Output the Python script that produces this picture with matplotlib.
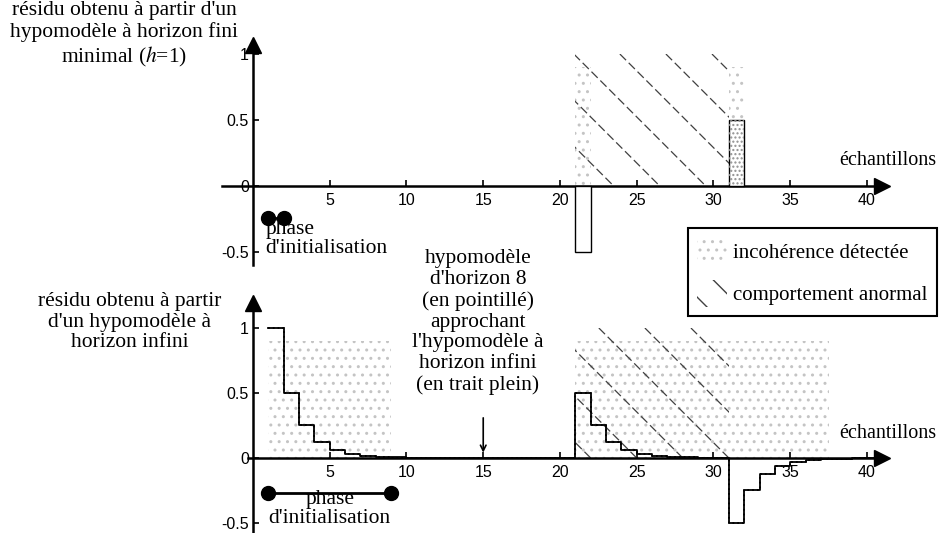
import matplotlib.pyplot as plt
import numpy as np
from matplotlib.patches import Patch

plt.rcParams['font.family'] = ['Liberation Serif', 'DejaVu Serif']
plt.rcParams['mathtext.fontset'] = 'stix'
plt.rcParams['axes.unicode_minus'] = False
plt.rcParams['hatch.linewidth'] = 1.0

# ---- donnees ----
# hypomodele a horizon fini minimal (h=1) : residu non nul en 21 et 31
ech_h1 = [21, 31]
residu_h1 = [-0.5, 0.5]

# hypomodele a horizon infini (trait plein) et d'horizon 8 (pointille)
ech = list(range(1, 42))
residu_inf = [1, 0.5, 0.25, 0.125, 0.0625, 0.03, 0.015, 0.008, 0.004, 0.002,
              0, 0, 0, 0, 0, 0, 0, 0, 0, 0,
              0.5, 0.25, 0.125, 0.0625, 0.03, 0.015, 0.008, 0.004, 0.002, 0,
              -0.5, -0.25, -0.125, -0.0625, -0.03, -0.015, -0.008, -0.004, -0.002, 0,
              0]
residu_h8 = [1, 0.5, 0.25, 0.125, 0.0625, 0.03, 0.015, 0.008, 0, 0,
             0, 0, 0, 0, 0, 0, 0, 0, 0, 0,
             0.5, 0.25, 0.125, 0.0625, 0.03, 0.015, 0.008, 0.004, 0, 0,
             -0.5, -0.25, -0.125, -0.0625, -0.03, -0.015, -0.008, -0.004, 0, 0,
             0]

# zones "incoherence detectee" (intervalles d'echantillons) et "comportement anormal"
incoherence_haut = [(21, 22), (31, 32)]
incoherence_bas = [(1, 9), (21, 37.5)]
anormal = (21, 31)
haut_incoherence = 0.9
haut_anormal = 1.0

phase_init_haut = [1, 2]
phase_init_bas = [1, 9]

ticks_x = [5, 10, 15, 20, 25, 30, 35, 40]
ticks_y = [-0.5, 0, 0.5, 1]
labels_y = ['-0.5', '0', '0.5', '1']

STIPPLE = '#c4c4c4'
HATCH = '#404040'
FS = 15.5
LS = 1.13


def habiller(ax, ylim, xbornes, ybornes):
    ax.set_xlim(-2, 43)
    ax.set_ylim(*ylim)
    ax.patch.set_visible(False)
    ax.spines['top'].set_visible(False)
    ax.spines['right'].set_visible(False)
    ax.spines['left'].set_position(('data', 0))
    ax.spines['bottom'].set_position(('data', 0))
    ax.spines['left'].set_bounds(*ybornes)
    ax.spines['bottom'].set_bounds(*xbornes)
    ax.spines['left'].set_linewidth(1.8)
    ax.spines['bottom'].set_linewidth(1.8)
    ax.set_xticks(ticks_x)
    ax.set_xticklabels([str(t) for t in ticks_x])
    ax.set_yticks(ticks_y)
    ax.set_yticklabels(labels_y)
    ax.tick_params(direction='in', length=4, width=1.2, labelsize=11.5)
    ax.tick_params(axis='x', pad=5)
    ax.tick_params(axis='y', pad=3)
    for lab in ax.get_xticklabels() + ax.get_yticklabels():
        lab.set_family('Liberation Sans')
    ax.plot(xbornes[1], 0, marker='>', ms=11, color='k', clip_on=False)
    ax.plot(0, ybornes[1], marker='^', ms=11, color='k', clip_on=False)


def hachures(ax, x0, x1, hauteur, pente, pas, origine):
    rect = plt.Rectangle((x0, 0), x1 - x0, hauteur, fill=False, lw=0)
    ax.add_patch(rect)
    for c in np.arange(origine - 6 * pas, origine + 6 * pas, pas):
        xs = np.array([c - hauteur / pente, c])
        ln, = ax.plot(xs, pente * (c - xs), color=HATCH, lw=0.9,
                      dashes=(7, 3))
        ln.set_clip_path(rect)


def stipple(ax, x0, x1, hauteur):
    ax.fill_between([x0, x1], 0, hauteur, facecolor='none',
                    edgecolor=STIPPLE, hatch='..', lw=0)


fig = plt.figure(figsize=(9.41, 5.33), dpi=100)
ax1 = fig.add_axes([0.2362, 0.5024, 0.7341, 0.4458])
ax2 = fig.add_axes([0.2362, 0.0017, 0.7341, 0.4561])

# ---- panneau du haut ----
habiller(ax1, (-0.6, 1.2), (-2.0, 41.0), (-0.6, 1.07))
for a, b in incoherence_haut:
    stipple(ax1, a, b, haut_incoherence)
hachures(ax1, anormal[0], anormal[1], haut_anormal, 15.35 / 132, 3.0, 23.5)
ax1.bar(ech_h1, residu_h1, width=1, align='edge', facecolor='white',
        edgecolor='k', lw=1.0, zorder=3)
ax1.bar(ech_h1[1:], residu_h1[1:], width=1, align='edge', facecolor='none',
        edgecolor='#909090', hatch='....', lw=0, zorder=3)
ax1.plot(phase_init_haut, [-0.24, -0.24], color='k', lw=2, marker='o', ms=10)
ax1.text(0.8, -0.26, "phase\nd'initialisation", ha='left', va='top',
         fontsize=FS, linespacing=1.0)
ax1.text(41.35, 0.19, 'échantillons', ha='center', va='center', fontsize=14.5)

# ---- panneau du bas ----
habiller(ax2, (-0.57, 1.3), (-0.3, 41.0), (-0.57, 1.19))
for a, b in incoherence_bas:
    stipple(ax2, a, b, haut_incoherence)
hachures(ax2, anormal[0], anormal[1], haut_anormal, 15.35 / 130, 3.0, 31.0)
ax2.step(ech, residu_h8, where='post', color='k', lw=1.3, ls=':', zorder=3)
ax2.step(ech, residu_inf, where='post', color='k', lw=1.3, zorder=4)
ax2.plot(phase_init_bas, [-0.27, -0.27], color='k', lw=2, marker='o', ms=10)
ax2.text(5.0, -0.25, "phase\nd'initialisation", ha='center', va='top',
         fontsize=FS, linespacing=1.0)
ax2.text(41.35, 0.19, 'échantillons', ha='center', va='center', fontsize=14.5)
ax2.annotate('', xy=(15, 0.02), xytext=(15, 0.33),
             arrowprops=dict(arrowstyle='->', color='k', lw=1.2))

# ---- textes ----
fig.text(124 / 941, 1 - 35 / 533,
         "résidu obtenu à partir d'un\nhypomodèle à horizon fini\nminimal ($h$=1)",
         ha='center', va='center', fontsize=FS, linespacing=LS)
fig.text(130 / 941, 1 - 322 / 533,
         "résidu obtenu à partir\nd'un hypomodèle à\nhorizon infini",
         ha='center', va='center', fontsize=FS, linespacing=LS)
fig.text(478 / 941, 1 - 322 / 533,
         "hypomodèle\nd'horizon 8\n(en pointillé)\napprochant\nl'hypomodèle à\n"
         "horizon infini\n(en trait plein)",
         ha='center', va='center', fontsize=FS, linespacing=LS)

poignees = [Patch(facecolor='white', edgecolor=STIPPLE, hatch='..', lw=0),
            Patch(facecolor='white', edgecolor=HATCH, hatch='\\', lw=0)]
leg = fig.legend(poignees, ['incohérence détectée', 'comportement anormal'],
                 loc='upper left', bbox_to_anchor=(688 / 941, 1 - 228 / 533),
                 fancybox=False, edgecolor='k', framealpha=1, fontsize=15,
                 handlelength=1.4, handleheight=1.6, labelspacing=0.75,
                 borderpad=0.45, handletextpad=0.3, borderaxespad=0)
leg.get_frame().set_linewidth(1.5)

fig.savefig('out.png', dpi=100)
